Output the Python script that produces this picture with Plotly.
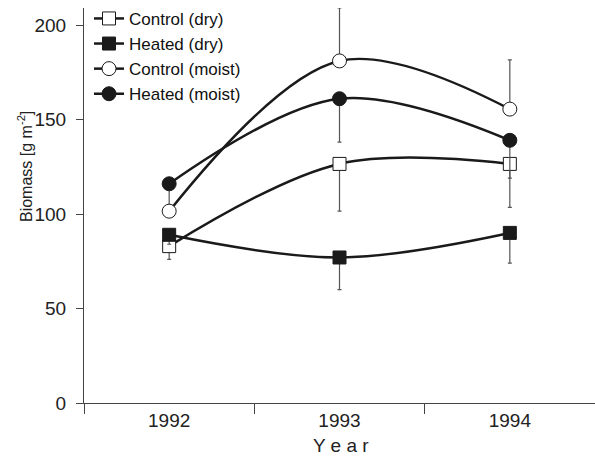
import plotly.graph_objects as go

# Annual biomass per treatment
years = ["1992", "1993", "1994"]

control_dry = [83, 126.5, 126.5]
control_dry_err = [7, 25, 23]

heated_dry = [89, 77, 90]
heated_dry_err = [5, 17, 16]

control_moist = [101.5, 181, 155.5]
control_moist_err = [0, 28, 26]

heated_moist = [116, 161, 139]
heated_moist_err = [12, 23, 20]

LINE = "#1a1a1a"
BAR = "#555555"
FONT = "Liberation Sans, Arial, sans-serif"
NARROW = "Liberation Sans Narrow, Arial Narrow, Liberation Sans, sans-serif"


def series(name, y, err, symbol, fill, size, upper, rank):
    zeros = [0] * len(err)
    return go.Scatter(
        x=years,
        y=y,
        name=name,
        mode="lines+markers",
        legendrank=rank,
        line=dict(color=LINE, width=2.5, shape="spline", smoothing=1),
        marker=dict(symbol=symbol, size=size, color=fill,
                    line=dict(color=LINE, width=1)),
        error_y=dict(
            type="data",
            symmetric=False,
            array=err if upper else zeros,
            arrayminus=zeros if upper else err,
            color=BAR,
            thickness=1.2,
            width=2,
        ),
    )


fig = go.Figure()
fig.add_trace(series("Control (dry)", control_dry, control_dry_err,
                     "square", "white", 13, False, 1))
fig.add_trace(series("Heated (dry)", heated_dry, heated_dry_err,
                     "square", LINE, 13, False, 2))
fig.add_trace(series("Heated (moist)", heated_moist, heated_moist_err,
                     "circle", LINE, 14, False, 4))
fig.add_trace(series("Control (moist)", control_moist, control_moist_err,
                     "circle", "white", 14, True, 3))

fig.update_layout(
    width=595,
    height=458,
    margin=dict(l=84, r=0, t=8, b=55),
    paper_bgcolor="white",
    plot_bgcolor="white",
    font=dict(family=FONT, size=18, color="#222222"),
    showlegend=True,
    legend=dict(
        x=(89 - 84) / 511, y=1.018, xanchor="left", yanchor="top",
        bgcolor="rgba(0,0,0,0)",
        font=dict(family=FONT, size=17, color="#111111"),
        traceorder="normal",
        itemwidth=30,
    ),
    xaxis=dict(
        type="category",
        range=[-0.5, 2.5],
        showline=True, linecolor="#444444", linewidth=1.2,
        ticks="outside", tickson="boundaries", ticklen=10,
        tickcolor="#444444", tickwidth=1.2,
        showgrid=False, zeroline=False,
        tickfont=dict(family=FONT, size=19, color="#222222"),
    ),
    yaxis=dict(
        range=[0, 209],
        tickvals=[0, 50, 100, 150, 200],
        showline=True, linecolor="#444444", linewidth=1.2,
        ticks="outside", ticklen=7,
        tickcolor="#444444", tickwidth=1.2,
        ticklabelstandoff=6,
        showgrid=False, zeroline=False,
        tickfont=dict(family=FONT, size=19, color="#222222"),
    ),
    annotations=[
        dict(
            text="Biomass [g m<sup>-2</sup>]",
            xref="paper", yref="paper",
            x=(25 - 84) / 511, y=(403 - 167) / 395,
            xanchor="center", yanchor="middle",
            textangle=-90, showarrow=False,
            font=dict(family=NARROW, size=16, color="#222222"),
        ),
        dict(
            text="Y e a r",
            xref="paper", yref="paper",
            x=(341 - 84) / 511, y=(403 - 446) / 395,
            xanchor="center", yanchor="middle",
            showarrow=False,
            font=dict(family=FONT, size=19, color="#222222"),
        ),
    ],
)

fig.write_html("out.html")
